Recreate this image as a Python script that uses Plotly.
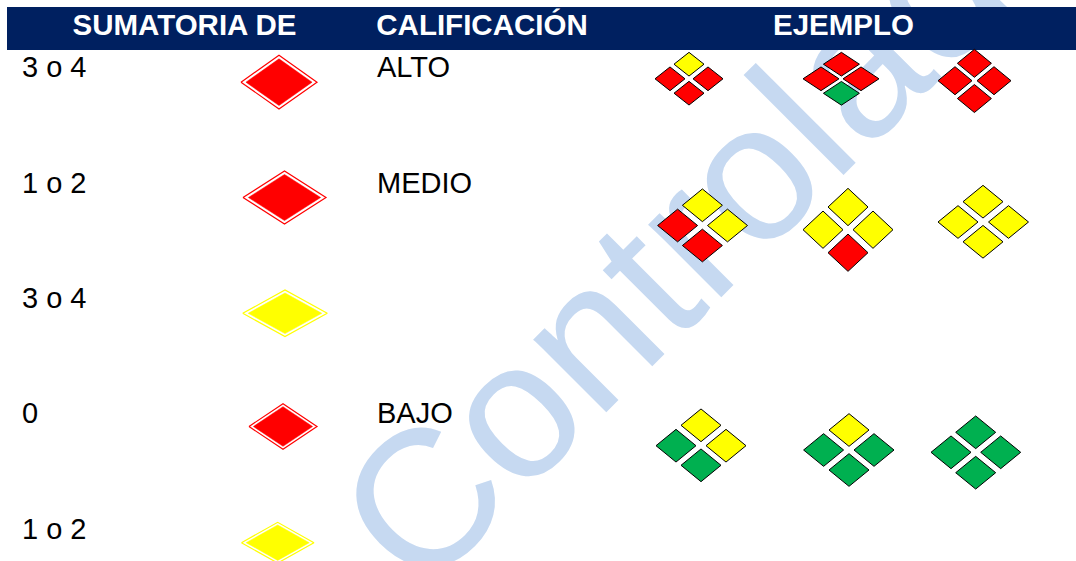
import plotly.graph_objects as go

RED, YELLOW, GREEN = "#FF0000", "#FFFF00", "#00B050"
NAVY, WATER = "#002060", "#C6D9F1"

headers = ["SUMATORIA DE", "CALIFICACIÓN", "EJEMPLO"]
header_x = [184.5, 482, 843.5]
header_y = [27.5, 27.5, 27.5]

sumas = ["3 o 4", "1 o 2", "3 o 4", "0", "1 o 2"]
sumas_x = [22, 22, 22, 22, 22]
sumas_y = [69.5, 185.5, 300.5, 416, 531.5]

califs = ["ALTO", "MEDIO", "BAJO"]
califs_x = [377, 377, 377]
califs_y = [69.5, 185.5, 416]

nivel_x = [279, 284.5, 285, 283, 277.7]
nivel_y = [82.2, 197.5, 313.3, 426.5, 542.7]
nivel_w = [76, 83, 84.5, 68, 72.5]
nivel_h = [53.7, 53, 46.7, 45.6, 40.7]
nivel_color = [RED, RED, YELLOW, RED, YELLOW]

# top, left, right, bottom of each example group
grupo_x = [
    [689, 670, 708, 689], [841.4, 821, 861, 841.4], [974.4, 955, 994, 974.4],
    [702.4, 677.6, 727.5, 702.4], [848, 823, 873, 848], [983, 958, 1008.5, 983],
    [701, 676, 726, 701], [849, 823.6, 874, 849], [975.7, 951, 1000.7, 975.7],
]
grupo_y = [
    [64.2, 78.8, 78.8, 93.2], [64.2, 78.8, 78.8, 93.3], [63.3, 80.7, 80.7, 98.5],
    [205.3, 225.5, 225.5, 245.5], [207, 229.7, 229.7, 252.7], [201.7, 222, 222, 241.8],
    [425.3, 445.7, 445.7, 465.3], [430, 450, 450, 470], [432.3, 452.3, 452.3, 472.7],
]
grupo_w = [30, 36, 34, 40, 40, 40, 40, 40, 40]
grupo_h = [23.7, 23.7, 28, 32.7, 37.3, 32.7, 32.7, 32.7, 32.7]
grupo_color = [
    [YELLOW, RED, RED, RED], [RED, RED, RED, GREEN], [RED, RED, RED, RED],
    [YELLOW, RED, YELLOW, RED], [YELLOW, YELLOW, YELLOW, RED], [YELLOW, YELLOW, YELLOW, YELLOW],
    [YELLOW, GREEN, YELLOW, GREEN], [YELLOW, GREEN, GREEN, GREEN], [GREEN, GREEN, GREEN, GREEN],
]


def diamond(cx, cy, w, h, fill, line, lw=1):
    return go.Scatter(
        x=[cx - w / 2, cx, cx + w / 2, cx, cx - w / 2],
        y=[cy, cy - h / 2, cy, cy + h / 2, cy],
        mode="lines", fill="toself", fillcolor=fill,
        line=dict(color=line, width=lw), hoverinfo="skip", showlegend=False,
    )


fig = go.Figure()

for cx, cy, w, h, c in zip(nivel_x, nivel_y, nivel_w, nivel_h, nivel_color):
    fig.add_trace(diamond(cx, cy, w, h, "#FFFFFF", c, 1.2))
    fig.add_trace(diamond(cx, cy, w * 0.87, h * 0.87, c, c, 0.5))

for xs, ys, w, h, cs in zip(grupo_x, grupo_y, grupo_w, grupo_h, grupo_color):
    for cx, cy, c in zip(xs, ys, cs):
        fig.add_trace(diamond(cx, cy, w, h, c, "#000000", 1))

FONT = "Liberation Sans, Arial, sans-serif"
fig.add_trace(go.Scatter(x=sumas_x, y=sumas_y, text=sumas, mode="text", textposition="middle right",
                         textfont=dict(family=FONT, size=29, color="#000000"),
                         hoverinfo="skip", showlegend=False))
fig.add_trace(go.Scatter(x=califs_x, y=califs_y, text=califs, mode="text", textposition="middle right",
                         textfont=dict(family=FONT, size=29, color="#000000"),
                         hoverinfo="skip", showlegend=False))
fig.add_trace(go.Scatter(x=header_x, y=header_y, text=headers, mode="text", textposition="middle center",
                         textfont=dict(family=FONT, size=29.5, color="#FFFFFF", weight="bold"),
                         hoverinfo="skip", showlegend=False))

fig.add_shape(type="rect", x0=687, x1=707, y0=190, y1=210, layer="below",
              line=dict(width=0), fillcolor="rgba(0,0,0,0)",
              label=dict(text="Controlado", textangle=-45, textposition="middle center",
                         font=dict(family=FONT, size=195, color=WATER)))
fig.add_shape(type="rect", x0=7, x1=1076, y0=7, y1=50, layer="below",
              line=dict(width=0), fillcolor=NAVY)

fig.update_layout(
    width=1076, height=561, margin=dict(l=0, r=0, t=0, b=0),
    paper_bgcolor="#FFFFFF", plot_bgcolor="rgba(0,0,0,0)", showlegend=False,
    xaxis=dict(range=[0, 1076], visible=False, fixedrange=True),
    yaxis=dict(range=[561, 0], visible=False, fixedrange=True),
)
fig.write_html("out.html", config={"displayModeBar": False},
               post_script="document.body.style.margin='0';")
